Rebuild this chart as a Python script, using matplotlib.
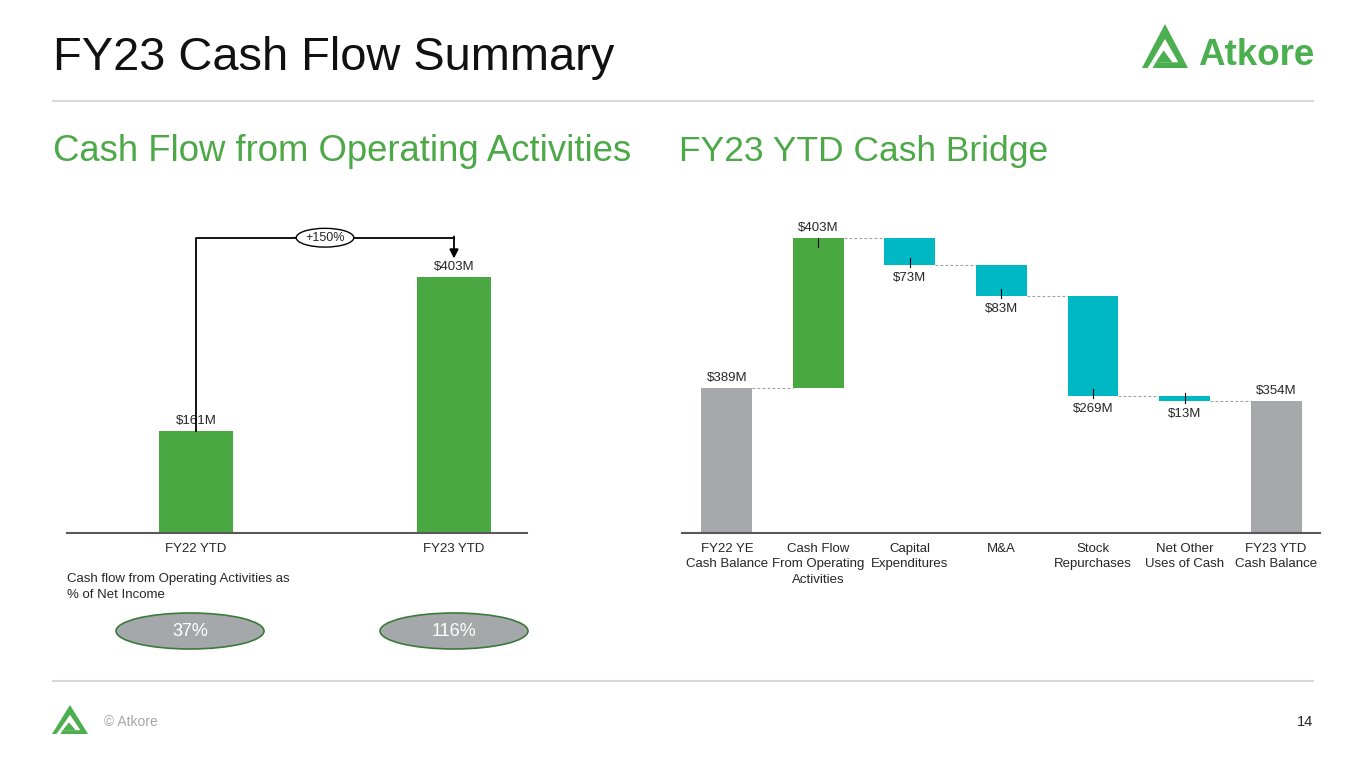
import matplotlib
matplotlib.use("Agg")
import matplotlib.pyplot as plt
from matplotlib.patches import Ellipse, Polygon
import numpy as np

plt.rcParams['font.family'] = ['Liberation Sans', 'DejaVu Sans']

# ---------------- data ----------------
cfo_periods = ['FY22 YTD', 'FY23 YTD']
cfo_values = [161, 403]
cfo_growth_label = '+150%'
ni_pct_labels = ['37%', '116%']

bridge_categories = ['FY22 YE\nCash Balance', 'Cash Flow\nFrom Operating\nActivities',
                     'Capital\nExpenditures', 'M&A', 'Stock\nRepurchases',
                     'Net Other\nUses of Cash', 'FY23 YTD\nCash Balance']
bridge_start = 389
bridge_changes = [403, -73, -83, -269, -13]
bridge_end = 354

# ---------------- style ----------------
W, H = 1365, 768
GREEN = '#4AA843'
TEAL = '#00B7C4'
GRAY = '#A6A8AB'
TXT = '#262626'

fig = plt.figure(figsize=(13.65, 7.68), dpi=100)


def fx(px):
    return px / W


def fy(py):
    return 1 - py / H


bg = fig.add_axes([0, 0, 1, 1], zorder=0)
bg.set_xlim(0, W)
bg.set_ylim(H, 0)
bg.axis('off')

# title & rules
bg.text(53, 70, 'FY23 Cash Flow Summary', fontsize=33.8, va='baseline', ha='left', color='#111111')
bg.plot([53, 1313], [101, 101], color='#D9D9D9', lw=1.5)
bg.plot([53, 1313], [681, 681], color='#D9D9D9', lw=1.5)
bg.text(53, 161, 'Cash Flow from Operating Activities', fontsize=26.3, va='baseline', ha='left', color='#4DA848')
bg.text(679, 161, 'FY23 YTD Cash Bridge', fontsize=25.5, va='baseline', ha='left', color='#4DA848')


def draw_mark(x0, y0, w, h, color='#4BAE4F'):
    def P(pts):
        return [(x0 + u * w, y0 + v * h) for u, v in pts]
    bg.add_patch(Polygon(P([(0, 1), (0.5, 0), (1, 1)]), closed=True, fc=color, ec='none'))
    bg.add_patch(Polygon(P([(0.2, 0.87), (0.5, 0.34), (0.79, 0.87)]), closed=True, fc='white', ec='none'))
    bg.add_patch(Polygon(P([(0.3, 0.87), (0.47, 0.6), (0.66, 0.87)]), closed=True, fc=color, ec='none'))
    bg.add_patch(Polygon(P([(0.12, 1.0), (0.2, 0.87), (0.3, 0.87), (0.23, 1.0)]), closed=True, fc='white', ec='none'))


# logos
draw_mark(1142, 24, 46, 44)
bg.text(1198, 65, 'Atkore', fontsize=26.5, fontweight='bold', color='#4BAE4F', va='baseline', ha='left')
draw_mark(52, 705, 36, 29)
bg.text(104, 722, '\u00a9 Atkore', fontsize=10, color='#A6A6A6', va='center', ha='left')
bg.text(1313, 722, '14', fontsize=10.5, color=TXT, va='center', ha='right')

# note and ovals
bg.text(67, 587, 'Cash flow from Operating Activities as\n% of Net Income', fontsize=9.5,
        color=TXT, va='center', ha='left', linespacing=1.45)
for cx, lab in zip([190, 454], ni_pct_labels):
    bg.add_patch(Ellipse((cx, 631), 148, 36, fc='#A5A8AA', ec='#3C7A3C', lw=1.2))
    bg.text(cx, 632, lab, fontsize=13, color='white', ha='center', va='center')

# ---------------- left chart ----------------
axL = fig.add_axes([fx(67), fy(533), fx(527) - fx(67), (533 - 200) / H])
axL.patch.set_alpha(0)
xL = np.arange(len(cfo_values))
axL.bar(xL, cfo_values, width=0.287, color=GREEN, zorder=2)
axL.set_xlim(-0.5, 1.283)
axL.set_ylim(0, 524)
for x, v in zip(xL, cfo_values):
    axL.annotate(f'${v}M', (x, v), xytext=(0, 3), textcoords='offset points',
                 ha='center', va='bottom', fontsize=9.5, color=TXT)
y_conn = max(cfo_values) * 1.153
axL.plot([xL[0], xL[0], xL[1]], [cfo_values[0], y_conn, y_conn], color='black', lw=1.3, zorder=3)
axL.annotate('', xy=(xL[1], max(cfo_values) * 1.072), xytext=(xL[1], y_conn + 2),
             arrowprops=dict(arrowstyle='-|>', color='black', lw=1.3, mutation_scale=13,
                             shrinkA=0, shrinkB=0), zorder=3)
axL.text((xL[0] + xL[1]) / 2, y_conn, cfo_growth_label, ha='center', va='center', fontsize=9,
         color=TXT, zorder=4,
         bbox=dict(boxstyle='ellipse,pad=0.05', fc='white', ec='black', lw=1))
axL.set_xticks(xL)
axL.set_xticklabels(cfo_periods, fontsize=9.5, color=TXT)
axL.tick_params(axis='x', length=0, pad=7)
axL.set_yticks([])
for s in ['top', 'left', 'right']:
    axL.spines[s].set_visible(False)
axL.spines['bottom'].set_color('#595959')
axL.spines['bottom'].set_linewidth(1.5)

# ---------------- right chart (bridge) ----------------
axR = fig.add_axes([fx(682), fy(533), fx(1320) - fx(682), (533 - 200) / H])
axR.patch.set_alpha(0)
n = len(bridge_categories)
bw = 0.557
bottoms, heights, colors, levels = [0], [bridge_start], [GRAY], [bridge_start]
cum = bridge_start
for d in bridge_changes:
    if d >= 0:
        bottoms.append(cum); heights.append(d); colors.append(GREEN)
    else:
        bottoms.append(cum + d); heights.append(-d); colors.append(TEAL)
    cum += d
    levels.append(cum)
bottoms.append(0); heights.append(bridge_end); colors.append(GRAY)
xs = np.arange(n)
axR.bar(xs, heights, bottom=bottoms, width=bw, color=colors, zorder=2)
axR.set_xlim(-0.49, 6.48)
axR.set_ylim(0, 895)

# dashed connectors
for i in range(n - 1):
    axR.plot([xs[i] + bw / 2, xs[i + 1] - bw / 2], [levels[i], levels[i]],
             color='#A0A0A0', lw=0.8, ls=(0, (2.5, 2)), zorder=1)

# value labels
tick = 24
axR.annotate(f'${bridge_start}M', (xs[0], bridge_start), xytext=(0, 3), textcoords='offset points',
             ha='center', va='bottom', fontsize=9.5, color=TXT)
axR.annotate(f'${bridge_end}M', (xs[-1], bridge_end), xytext=(0, 3), textcoords='offset points',
             ha='center', va='bottom', fontsize=9.5, color=TXT)
for i, d in enumerate(bridge_changes, start=1):
    top = bottoms[i] + heights[i]
    bot = bottoms[i]
    if d >= 0:
        axR.plot([xs[i], xs[i]], [top - tick, top], color='black', lw=0.8, zorder=3)
        axR.annotate(f'${d}M', (xs[i], top), xytext=(0, 3), textcoords='offset points',
                     ha='center', va='bottom', fontsize=9.5, color=TXT)
    else:
        axR.plot([xs[i], xs[i]], [bot - 5, bot + 21], color='black', lw=0.8, zorder=3)
        axR.annotate(f'${-d}M', (xs[i], bot), xytext=(0, -4.5), textcoords='offset points',
                     ha='center', va='top', fontsize=9.5, color=TXT)

axR.set_xticks(xs)
axR.set_xticklabels(bridge_categories, fontsize=9.5, color=TXT, linespacing=1.4)
axR.tick_params(axis='x', length=0, pad=7)
axR.set_yticks([])
for s in ['top', 'left', 'right']:
    axR.spines[s].set_visible(False)
axR.spines['bottom'].set_color('#595959')
axR.spines['bottom'].set_linewidth(1.5)

fig.savefig('out.png', dpi=100)
